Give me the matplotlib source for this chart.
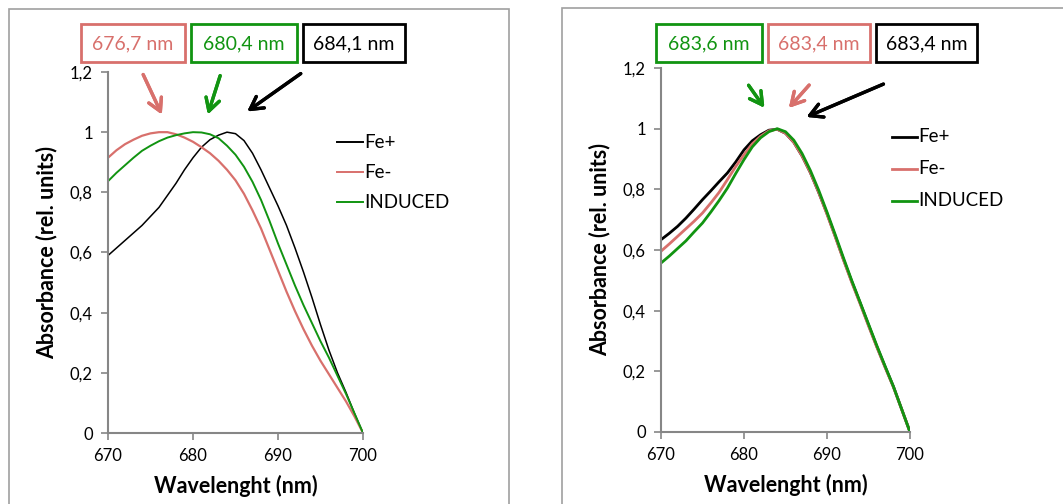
import numpy as np
import matplotlib.pyplot as plt
from matplotlib.patches import Rectangle
from matplotlib.lines import Line2D

plt.rcParams['font.family'] = ['Lato', 'DejaVu Sans']

W, H = 1063, 504

# wavelengths (nm)
wl = np.arange(670, 701)

# left panel
fe_plus_l = [0.59, 0.615, 0.64, 0.665, 0.69, 0.72, 0.75, 0.79, 0.83, 0.875, 0.915,
             0.95, 0.975, 0.99, 1.0, 0.995, 0.972, 0.93, 0.875, 0.815, 0.755,
             0.69, 0.615, 0.535, 0.45, 0.36, 0.275, 0.2, 0.135, 0.065, 0.0]
fe_minus_l = [0.915, 0.94, 0.96, 0.975, 0.988, 0.996, 1.0, 1.0, 0.993, 0.982, 0.968,
              0.95, 0.93, 0.905, 0.875, 0.84, 0.795, 0.74, 0.68, 0.61, 0.54,
              0.47, 0.405, 0.345, 0.29, 0.24, 0.195, 0.15, 0.105, 0.055, 0.0]
induced_l = [0.837, 0.865, 0.89, 0.915, 0.938, 0.955, 0.97, 0.982, 0.99, 0.996, 1.0,
             0.999, 0.993, 0.98, 0.955, 0.925, 0.885, 0.835, 0.775, 0.705, 0.63,
             0.56, 0.49, 0.425, 0.365, 0.305, 0.25, 0.19, 0.13, 0.065, 0.0]

# right panel
fe_plus_r = [0.634, 0.655, 0.678, 0.705, 0.735, 0.766, 0.795, 0.825, 0.854, 0.89, 0.93,
             0.96, 0.98, 0.995, 0.998, 0.985, 0.955, 0.91, 0.855, 0.79, 0.72,
             0.645, 0.568, 0.495, 0.425, 0.353, 0.282, 0.215, 0.15, 0.075, 0.0]
fe_minus_r = [0.596, 0.62, 0.645, 0.67, 0.695, 0.722, 0.755, 0.79, 0.832, 0.875, 0.914,
              0.95, 0.975, 0.993, 0.998, 0.985, 0.955, 0.91, 0.855, 0.79, 0.718,
              0.643, 0.566, 0.492, 0.422, 0.35, 0.28, 0.213, 0.148, 0.074, 0.0]
induced_r = [0.557, 0.58, 0.605, 0.63, 0.66, 0.689, 0.725, 0.763, 0.804, 0.852, 0.898,
             0.94, 0.97, 0.99, 1.0, 0.99, 0.962, 0.918, 0.862, 0.797, 0.725,
             0.65, 0.573, 0.498, 0.427, 0.356, 0.285, 0.217, 0.15, 0.075, 0.0]

labels = ['Fe+', 'Fe-', 'INDUCED']
peaks_l = ['676,7 nm', '680,4 nm', '684,1 nm']   # red, green, black
peaks_r = ['683,6 nm', '683,4 nm', '683,4 nm']   # green, red, black

BLACK = '#000000'
RED = '#d8706c'
GREEN = '#119411'
GREY = '#868686'


def fx(x):
    return x / W


def fy(y):
    return 1 - y / H


def make_axes(fig, l, r, t, b):
    ax = fig.add_axes([fx(l), fy(b), fx(r - l), (b - t) / H])
    ax.set_xlim(670, 700)
    ax.set_ylim(0, 1.2)
    ax.set_xticks([670, 680, 690, 700])
    ax.set_xticklabels(['670', '680', '690', '700'])
    ax.set_yticks([0, 0.2, 0.4, 0.6, 0.8, 1.0, 1.2])
    ax.set_yticklabels(['0', '0,2', '0,4', '0,6', '0,8', '1', '1,2'])
    for s in ['top', 'right']:
        ax.spines[s].set_visible(False)
    for s in ['left', 'bottom']:
        ax.spines[s].set_color(GREY)
        ax.spines[s].set_linewidth(1.5)
    ax.tick_params(direction='out', length=5, width=1.2, color=GREY,
                   labelsize=12, pad=6)
    ax.set_xlabel('Wavelenght (nm)', fontsize=15.5, fontweight='bold', labelpad=8)
    ax.set_ylabel('Absorbance (rel. units)', fontsize=15.5, fontweight='bold', labelpad=9)
    return ax


def box(fig, x0, x1, text, color):
    fig.patches.append(Rectangle((fx(x0), fy(62)), fx(x1 - x0), 38 / H,
                                 transform=fig.transFigure, fill=False,
                                 edgecolor=color, linewidth=2))
    fig.text(fx((x0 + x1) / 2), fy(44), text, color=color, fontsize=14,
             ha='center', va='center')


def arrow(fig, start, end, color):
    fig.add_artist(plt.annotate('', xy=(fx(end[0]), fy(end[1])),
                                xytext=(fx(start[0]), fy(start[1])),
                                xycoords='figure fraction', textcoords='figure fraction',
                                arrowprops=dict(arrowstyle='->,head_length=0.9,head_width=0.5',
                                                color=color, lw=2.4)))


def legend(fig, x0, x1, ys, colors, lw):
    for y, c, lab in zip(ys, colors, labels):
        fig.add_artist(Line2D([fx(x0), fx(x1)], [fy(y), fy(y)], color=c, lw=lw,
                              transform=fig.transFigure))
        fig.text(fx(x1 + 1), fy(y), lab, fontsize=13.5, va='center', ha='left')


fig = plt.figure(figsize=(W / 100, H / 100), dpi=100)

# panel frames
fig.patches.append(Rectangle((fx(9), fy(520)), fx(500), 511 / H, transform=fig.transFigure,
                             fill=False, edgecolor='#a0a0a0', linewidth=1.2))
fig.patches.append(Rectangle((fx(562), fy(520)), fx(520), 512 / H, transform=fig.transFigure,
                             fill=False, edgecolor='#a0a0a0', linewidth=1.2))

# left chart
ax1 = make_axes(fig, 108, 363, 72, 433)
ax1.plot(wl, fe_plus_l, color=BLACK, lw=1.1, label=labels[0])
ax1.plot(wl, fe_minus_l, color=RED, lw=1.6, label=labels[1])
ax1.plot(wl, induced_l, color=GREEN, lw=1.4, label=labels[2])
legend(fig, 337, 363, [142, 172, 202], [BLACK, RED, GREEN], 1.4)

box(fig, 81, 185, peaks_l[0], RED)
box(fig, 191, 297, peaks_l[1], GREEN)
box(fig, 303, 405, peaks_l[2], BLACK)
arrow(fig, (142, 72), (163, 117), RED)
arrow(fig, (221, 73), (207, 117), GREEN)
arrow(fig, (303, 72), (245, 113), BLACK)

# right chart
ax2 = make_axes(fig, 661, 910, 68, 432)
ax2.plot(wl, fe_plus_r, color=BLACK, lw=2, label=labels[0])
ax2.plot(wl, fe_minus_r, color=RED, lw=2, label=labels[1])
ax2.plot(wl, induced_r, color=GREEN, lw=2, label=labels[2])
legend(fig, 892, 917, [137, 169, 201], [BLACK, RED, GREEN], 2)

box(fig, 656, 762, peaks_r[0], GREEN)
box(fig, 768, 870, peaks_r[1], RED)
box(fig, 876, 977, peaks_r[2], BLACK)
arrow(fig, (747, 83), (766, 110), GREEN)
arrow(fig, (811, 83), (787, 110), RED)
arrow(fig, (886, 83), (804, 118), BLACK)

fig.savefig('out.png', dpi=100)
